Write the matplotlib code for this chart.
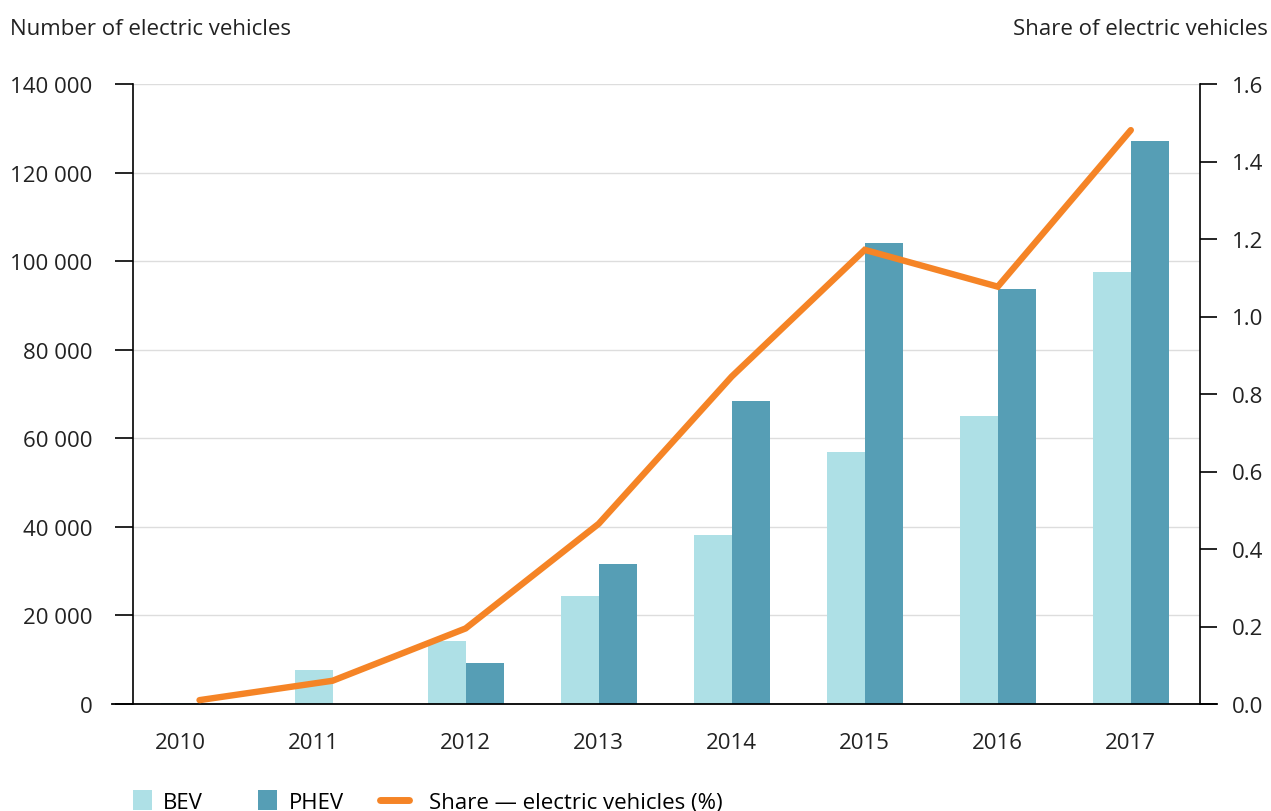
import matplotlib
matplotlib.use("Agg")
import matplotlib.pyplot as plt
import numpy as np
from matplotlib.patches import Patch
from matplotlib.lines import Line2D
from matplotlib.legend_handler import HandlerBase

plt.rcParams["font.family"] = ["Open Sans", "DejaVu Sans"]

years = ["2010", "2011", "2012", "2013", "2014", "2015", "2016", "2017"]
bev = [300, 7700, 14200, 24300, 38100, 56900, 65000, 97500]
phev = [0, 0, 9200, 31600, 68400, 104100, 93700, 127100]
share = [0.01, 0.06, 0.195, 0.465, 0.845, 1.172, 1.077, 1.481]

BEV_COLOR = "#aee0e6"
PHEV_COLOR = "#569eb5"
LINE_COLOR = "#f58426"
TEXT = "#222222"
FS = 16


class WideLineHandler(HandlerBase):
    # the line symbol is wider than the square ones and sits further left
    def create_artists(self, legend, orig_handle, xdescent, ydescent, width, height, fontsize, trans):
        y = height / 2 - ydescent
        line = Line2D([-xdescent - 13.5, -xdescent + width - 6.5], [y, y],
                      color=orig_handle.get_color(), lw=orig_handle.get_linewidth(),
                      solid_capstyle="round", transform=trans)
        return [line]


fig = plt.figure(figsize=(12.71, 8.12), dpi=100)
ax = fig.add_axes([133 / 1271, 1 - 705 / 812, (1200 - 133) / 1271, (705 - 85) / 812])
ax2 = ax.twinx()

x = np.arange(len(years))
w = 0.286
ax.bar(x - w / 2, bev, width=w, color=BEV_COLOR, zorder=2)
ax.bar(x + w / 2, phev, width=w, color=PHEV_COLOR, zorder=2)
ax2.plot(x, share, color=LINE_COLOR, lw=4.6, solid_capstyle="round", solid_joinstyle="miter", zorder=3)

ax.set_xlim(-0.5, 7.52)
ax.set_ylim(0, 140000)
ax2.set_ylim(0, 1.6)

ax.set_yticks(np.arange(0, 140001, 20000))
ax.set_yticklabels([f"{v:,}".replace(",", " ") for v in range(0, 140001, 20000)])
ax2.set_yticks(np.arange(0, 1.61, 0.2))
ax2.set_yticklabels([f"{v:.1f}" for v in np.arange(0, 1.61, 0.2)])

# years with no PHEV bar get the label under the BEV bar
tick_pos = [i - w / 2 if p == 0 else i for i, p in enumerate(phev)]
ax.set_xticks(tick_pos)
ax.set_xticklabels(years)
ax.tick_params(axis="x", length=0, pad=20, labelsize=FS, labelcolor=TEXT)
ax.tick_params(axis="y", length=13, width=1.2, pad=16, labelsize=FS, labelcolor=TEXT, direction="out")
ax2.tick_params(axis="y", length=12, width=1.2, pad=11, labelsize=FS, labelcolor=TEXT, direction="out")

ax.grid(axis="y", color="#dddddd", lw=1, zorder=0)
ax.set_axisbelow(True)
for a in (ax, ax2):
    for s in ("top", "bottom"):
        a.spines[s].set_visible(False)
ax.spines["right"].set_visible(False)
ax2.spines["left"].set_visible(False)
ax.spines["left"].set_linewidth(1.2)
ax2.spines["right"].set_linewidth(1.2)
ax.axhline(0, xmin=-0.02, xmax=1.016, color="black", lw=1.3, clip_on=False, zorder=4)

fig.text(10 / 1271, 1 - 35 / 812, "Number of electric vehicles", fontsize=FS,
         color=TEXT, ha="left", va="baseline")
fig.text(1268 / 1271, 1 - 35 / 812, "Share of electric vehicles", fontsize=FS,
         color=TEXT, ha="right", va="baseline")

line_handle = Line2D([0], [0], color=LINE_COLOR, lw=5, label="Share — electric vehicles (%)")
handles = [
    Patch(facecolor=BEV_COLOR, label="BEV"),
    Patch(facecolor=PHEV_COLOR, label="PHEV"),
    line_handle,
]
fig.legend(handles=handles, loc="upper left", bbox_to_anchor=(133 / 1271, 1 - 791 / 812),
           ncol=3, frameon=False, fontsize=FS, handlelength=0.85, handleheight=1.0,
           handletextpad=0.5, columnspacing=2.5, borderaxespad=0, borderpad=0,
           handler_map={line_handle: WideLineHandler()})

fig.savefig("out.png", dpi=100)
